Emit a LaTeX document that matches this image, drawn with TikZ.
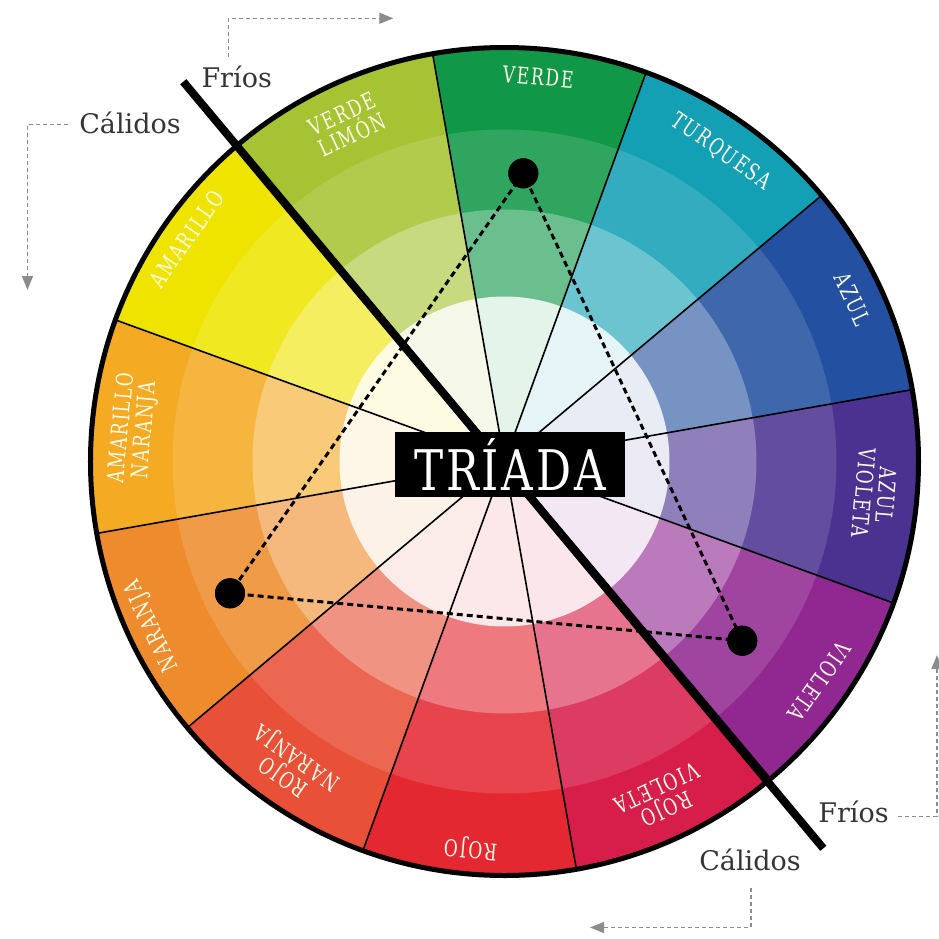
\documentclass[tikz,border=0pt]{standalone}
\usepackage{fontspec}
\setmainfont{DejaVu Serif}
\newfontfamily\labfont[LetterSpace=8,FakeStretch=0.74]{DejaVu Serif}
\newfontfamily\titfont[LetterSpace=5,FakeStretch=0.78]{DejaVu Serif}
\usetikzlibrary{arrows.meta}
\definecolor{cVerde}{HTML}{109848}
\definecolor{cTurq}{HTML}{14A0B4}
\definecolor{cAzul}{HTML}{2350A0}
\definecolor{cAzVio}{HTML}{4B3291}
\definecolor{cVio}{HTML}{912891}
\definecolor{cRojVio}{HTML}{D71E4B}
\definecolor{cRojo}{HTML}{E42832}
\definecolor{cRojNar}{HTML}{E85037}
\definecolor{cNar}{HTML}{EE8C2D}
\definecolor{cAmNar}{HTML}{F5AA23}
\definecolor{cAmar}{HTML}{EEE400}
\definecolor{cLimon}{HTML}{A5C332}
\definecolor{labcol}{HTML}{FFFBEA}
\definecolor{textgray}{HTML}{353535}
\definecolor{guidegray}{HTML}{8C8C8C}
\tikzset{
  seglab/.style={text=labcol, font=\labfont\fontsize{23}{23}\selectfont, align=center, inner sep=0pt},
  radline/.style={line width=1.6pt, black},
  triad/.style={line width=3pt, dash pattern=on 6pt off 4pt},
  dotnode/.style={circle, fill=black, minimum size=30pt, inner sep=0pt},
  guide/.style={draw=guidegray, line width=1.3pt, dash pattern=on 4pt off 3pt, -{Triangle[length=14pt,width=11pt,fill=guidegray]}},
  side/.style={text=textgray, font=\fontsize{27}{30}\selectfont, inner sep=0pt},
  titlebox/.style={fill=black, text=white, minimum width=230pt, minimum height=65pt, inner sep=0pt, font=\titfont\fontsize{56}{58}\selectfont}
}
\begin{document}
\begin{tikzpicture}[x=1pt,y=1pt]
\useasboundingbox (-504.5,-476.5) rectangle (434.5,461.5);
\fill[white] (-504.5,-476.5) rectangle (434.5,461.5);
% sectors
\foreach \a/\c in {70/cVerde,100/cLimon,130/cAmar,160/cAmNar,190/cNar,220/cRojNar,250/cRojo,280/cRojVio,310/cVio,340/cAzVio,10/cAzul,40/cTurq}{
  \fill[\c] (0,0) -- (\a:414) arc[start angle=\a, delta angle=30, radius=414] -- cycle;
  \fill[\c!87!white] (0,0) -- (\a:332) arc[start angle=\a, delta angle=30, radius=332] -- cycle;
  \fill[\c!62!white] (0,0) -- (\a:252) arc[start angle=\a, delta angle=30, radius=252] -- cycle;
  \fill[\c!11!white] (0,0) -- (\a:165) arc[start angle=\a, delta angle=30, radius=165] -- cycle;
}
\coordinate (C) at (0,0);
\foreach \a in {10,40,...,340}{
  \draw[radline] (C) -- (\a:414);
}
\draw[line width=5pt] (C) circle (414);
% labels
\foreach \a/\t/\r in {85/VERDE/386,55/TURQUESA/378,25/AZUL/384,325/VIOLETA/384,265/ROJO/388,205/NARANJA/388,145/AMARILLO/388}{
  \node[seglab, rotate=\a-90] (lab\a) at (\a:\r) {\t};
}
\foreach \a/\t in {355/{AZUL\\VIOLETA},295/{ROJO\\VIOLETA},235/{ROJO\\NARANJA},175/{AMARILLO\\NARANJA},115/{VERDE\\LIMÓN}}{
  \node[seglab, rotate=\a-90] (lab\a) at (\a:372) {\t};
}
% dividing line
\coordinate (divA) at (-321.2,379.8);
\coordinate (divB) at (318.8,-386.8);
\draw[line width=8pt] (divA) -- (divB);
% triad
\node[dotnode] (d1) at (18.8,288.2) {};
\node[dotnode] (d2) at (-274.5,-131.8) {};
\node[dotnode] (d3) at (237.8,-179.2) {};
\draw[triad] (d1.center) -- (d2.center) -- (d3.center) -- cycle;
\node[dotnode] at (d1) {};
\node[dotnode] at (d2) {};
\node[dotnode] at (d3) {};
\node[titlebox] (title) at (5.5,-3) {TRÍADA};
% side labels
\node[side] (frA) at (-267.8,385) {Fríos};
\node[side] (caA) at (-374.5,338.5) {Cálidos};
\node[side] (frB) at (349,-350.5) {Fríos};
\node[side] (caB) at (245.5,-398.5) {Cálidos};
% guide arrows
\coordinate (g1a) at (-276.2,404.8);
\coordinate (g1b) at (-276.2,443.2);
\coordinate (g1c) at (-111.2,443.2);
\draw[guide] (g1a) -- (g1b) -- (g1c);
\coordinate (g2a) at (-436.2,337.2);
\coordinate (g2b) at (-477,337.2);
\coordinate (g2c) at (-477,171.5);
\draw[guide] (g2a) -- (g2b) -- (g2c);
\coordinate (g3a) at (393.8,-355.2);
\coordinate (g3b) at (432.5,-355.2);
\coordinate (g3c) at (432.5,-193.5);
\draw[guide] (g3a) -- (g3b) -- (g3c);
\coordinate (g4a) at (246.5,-426.8);
\coordinate (g4b) at (246.5,-466);
\coordinate (g4c) at (85.5,-466);
\draw[guide] (g4a) -- (g4b) -- (g4c);
\end{tikzpicture}
\end{document}
